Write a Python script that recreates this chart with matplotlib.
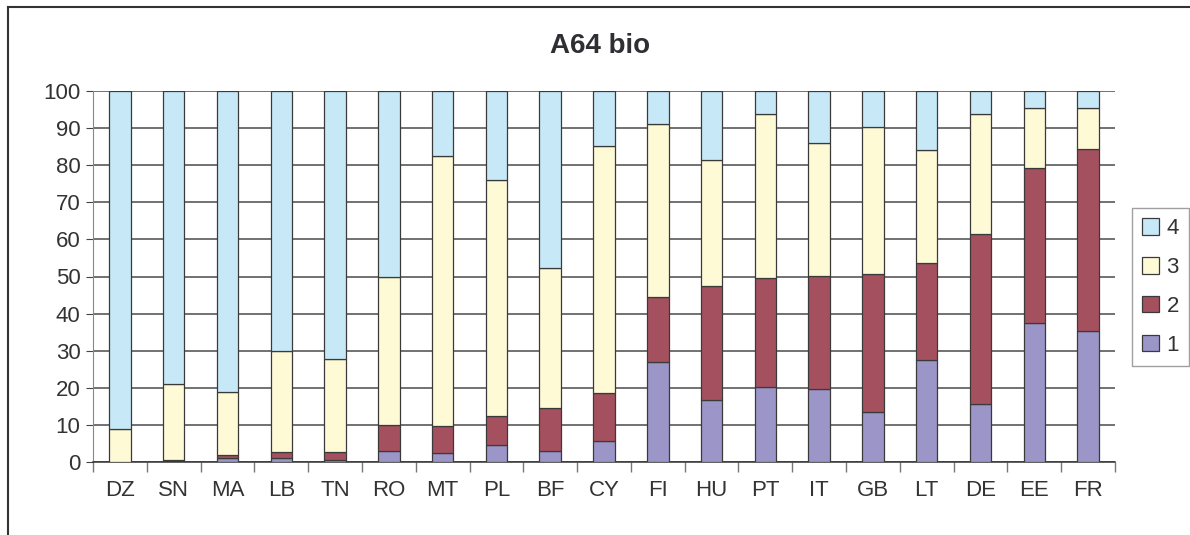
import matplotlib.pyplot as plt
from matplotlib.lines import Line2D
import numpy as np

plt.rcParams['font.family'] = ['Liberation Sans', 'DejaVu Sans']

countries = ["DZ", "SN", "MA", "LB", "TN", "RO", "MT", "PL", "BF", "CY",
             "FI", "HU", "PT", "IT", "GB", "LT", "DE", "EE", "FR"]

# share of each class (stacked, bottom to top)
class1 = [0, 0.3, 1.0, 1.0, 0.5, 3.0, 2.5, 4.6, 3.0, 5.7,
          27.0, 16.7, 20.2, 19.8, 13.5, 27.6, 15.7, 37.5, 35.4]
class2 = [0, 0.3, 1.0, 1.6, 2.1, 7.0, 7.3, 7.9, 11.6, 13.0,
          17.5, 30.8, 29.4, 30.3, 37.1, 26.1, 45.8, 41.8, 49.0]
class3 = [9.0, 20.3, 16.8, 27.2, 25.1, 40.0, 72.8, 63.6, 37.6, 66.4,
          46.5, 34.0, 44.3, 35.9, 39.6, 30.3, 32.2, 16.0, 10.9]
class4 = [91.0, 79.1, 81.2, 70.2, 72.3, 50.0, 17.4, 23.9, 47.8, 14.9,
          9.0, 18.5, 6.1, 14.0, 9.8, 16.0, 6.3, 4.7, 4.7]

series = [("1", class1, "#9c95c8"),
          ("2", class2, "#a5505f"),
          ("3", class3, "#fffad6"),
          ("4", class4, "#c6e8f7")]

W, H = 1190, 535
fig = plt.figure(figsize=(W / 100, H / 100), dpi=100)
ax = fig.add_axes([93 / W, 1 - 462 / H, (1115 - 93) / W, (462 - 91) / H])

x = np.arange(len(countries))
bottom = np.zeros(len(countries))
handles = []
for name, vals, col in series:
    vals = np.array(vals)
    b = ax.bar(x, vals, width=0.4, bottom=bottom, color=col,
               edgecolor="#3a3a3a", linewidth=0.9, label=name, zorder=3)
    handles.append(b)
    bottom += vals

ax.set_xlim(-0.5, len(countries) - 0.5)
ax.set_ylim(0, 100)
ax.set_yticks(np.arange(0, 101, 10))
ax.grid(axis="y", color="#4a4a4a", linewidth=1.1, zorder=0)

# category boundaries as major ticks, labels as minor ticks
ax.set_xticks(np.arange(-0.5, len(countries), 1.0))
ax.set_xticklabels([])
ax.set_xticks(x, minor=True)
ax.set_xticklabels(countries, minor=True)
ax.tick_params(axis="x", which="major", direction="out", length=7,
               color="#777777", width=1)
ax.tick_params(axis="x", which="minor", length=0, pad=13,
               labelsize=16, labelcolor="#333333")
ax.tick_params(axis="y", direction="out", length=5, color="#444444",
               labelsize=16, labelcolor="#333333", pad=4)

for s in ["top", "right"]:
    ax.spines[s].set_visible(False)
ax.spines["left"].set_color("#888888")
ax.spines["bottom"].set_color("#333333")
ax.spines["bottom"].set_linewidth(1.1)

fig.text(600 / W, 1 - 46 / H, "A64 bio", ha="center", va="center",
         fontsize=20, fontweight="bold", color="#2e2e33")

leg = fig.legend(handles[::-1], [s[0] for s in series][::-1],
                 loc="center left", bbox_to_anchor=(1132 / W, 1 - 287 / H),
                 fontsize=16, frameon=True, fancybox=False,
                 handlelength=0.75, handleheight=0.75, handletextpad=0.35,
                 labelspacing=0.8, borderpad=0.45, borderaxespad=0)
leg.get_frame().set_edgecolor("#888888")
leg.get_frame().set_linewidth(1.0)
for t in leg.get_texts():
    t.set_color("#333333")

# outer chart border
fig.add_artist(Line2D([8 / W, 1], [1 - 7 / H, 1 - 7 / H],
                      transform=fig.transFigure, color="#333333", lw=1.5))
fig.add_artist(Line2D([8 / W, 8 / W], [0, 1 - 7 / H],
                      transform=fig.transFigure, color="#333333", lw=1.5))

fig.savefig("out.png", dpi=100)
